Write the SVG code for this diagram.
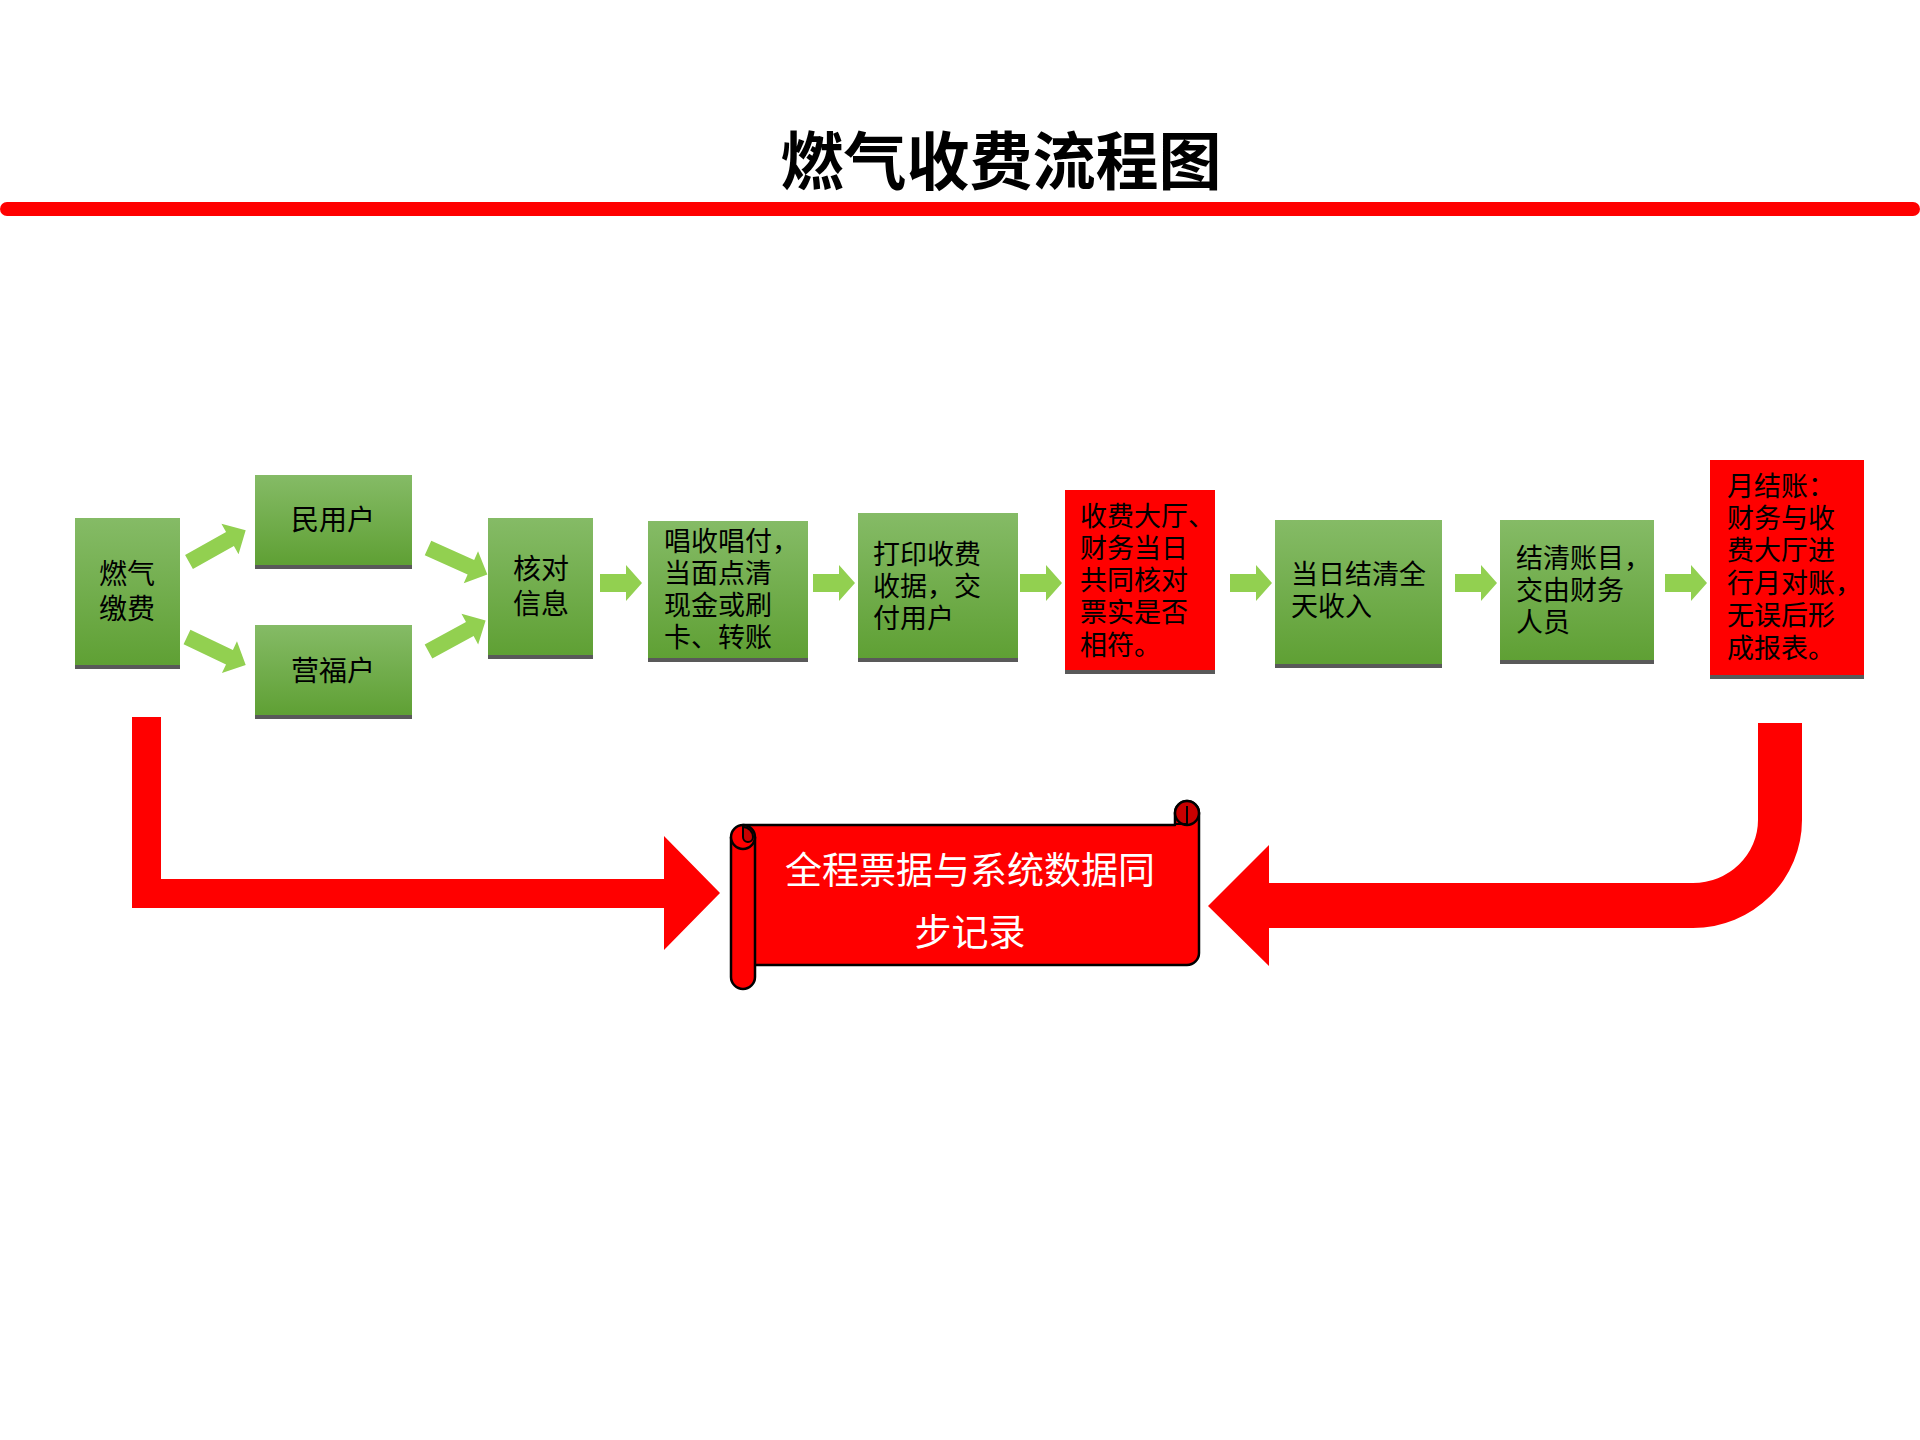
<svg xmlns="http://www.w3.org/2000/svg" width="1920" height="1440" viewBox="0 0 1920 1440">
  <defs>
    <linearGradient id="gGreen" x1="0" y1="0" x2="0" y2="1">
      <stop offset="0" stop-color="#85BB66"/>
      <stop offset="1" stop-color="#5FA034"/>
    </linearGradient>
    <polygon id="hArrow" points="0,-9 26,-9 26,-18 42,0 26,18 26,9 0,9"/>
    <polygon id="dArrow" points="0,-8 47,-8 47,-17.5 65,0 47,17.5 47,8 0,8"/>
    <style>
      .green { fill: url(#gGreen); }
      .redbox { fill: #FF0000; }
      .shadow { fill: #595959; }
      .txt { font-family: "Noto Sans CJK SC", "Noto Sans", sans-serif; fill: #000000; }
      .t28 { font-size: 28px; }
      .t27 { font-size: 27px; }
      .garrow { fill: #92D050; }
      .rarrow { fill: #FF0000; }
      .scrollLine { stroke: #000000; stroke-width: 2.5; stroke-linejoin: round; }
      .scrollTxt { font-family: "Noto Sans CJK SC", sans-serif; font-size: 37px; fill: #FFFFFF; }
    </style>
  </defs>
  <rect x="0" y="0" width="1920" height="1440" fill="#FFFFFF"/>

  <g id="title">
    <text x="1001" y="184" text-anchor="middle" font-family="'Noto Sans CJK SC', sans-serif" font-size="63" font-weight="bold" fill="#000000">燃气收费流程图</text>
    <rect x="0" y="202" width="1920" height="14" rx="7" fill="#FF0000"/>
  </g>

  <g id="connectors">
    <use href="#dArrow" class="garrow" transform="translate(189,562) rotate(-29.3)"/>
    <use href="#dArrow" class="garrow" transform="translate(187,637) rotate(25.4)"/>
    <use href="#dArrow" class="garrow" transform="translate(428,548) rotate(24.1)"/>
    <use href="#dArrow" class="garrow" transform="translate(428.5,651.5) rotate(-28.5)"/>
    <use href="#hArrow" class="garrow" transform="translate(600,583)"/>
    <use href="#hArrow" class="garrow" transform="translate(813,583)"/>
    <use href="#hArrow" class="garrow" transform="translate(1020,583)"/>
    <use href="#hArrow" class="garrow" transform="translate(1230,583)"/>
    <use href="#hArrow" class="garrow" transform="translate(1455,583)"/>
    <use href="#hArrow" class="garrow" transform="translate(1665,583)"/>
    <path class="rarrow" d="M 132,717 H 161 V 879 H 664 V 836 L 720,893 L 664,950 V 908 H 132 Z"/>
    <path class="rarrow" d="M 1758,723 H 1802 V 820 A 109 108 0 0 1 1693,928 H 1269 V 966 L 1208,906 L 1269,845 V 883 H 1693 A 65 63 0 0 0 1758,820 Z"/>
  </g>

  <g id="node-ranqi">
    <rect class="green" x="75" y="518" width="105" height="147"/>
    <rect class="shadow" x="75" y="665" width="105" height="4"/>
    <text class="txt t28"><tspan x="99" y="584">燃气</tspan><tspan x="99" y="619">缴费</tspan></text>
  </g>

  <g id="node-minyong">
    <rect class="green" x="255" y="475" width="157" height="90"/>
    <rect class="shadow" x="255" y="565" width="157" height="4"/>
    <text class="txt t28" x="291" y="530">民用户</text>
  </g>

  <g id="node-yingfu">
    <rect class="green" x="255" y="625" width="157" height="90"/>
    <rect class="shadow" x="255" y="715" width="157" height="4"/>
    <text class="txt t28" x="291" y="681">营福户</text>
  </g>

  <g id="node-hedui">
    <rect class="green" x="488" y="518" width="105" height="137"/>
    <rect class="shadow" x="488" y="655" width="105" height="4"/>
    <text class="txt t28"><tspan x="513" y="579">核对</tspan><tspan x="513" y="614">信息</tspan></text>
  </g>

  <g id="node-changshou">
    <rect class="green" x="648" y="521" width="160" height="137"/>
    <rect class="shadow" x="648" y="658" width="160" height="4"/>
    <text class="txt t27"><tspan x="664" y="551">唱收唱付，</tspan><tspan x="664" y="583">当面点清</tspan><tspan x="664" y="615">现金或刷</tspan><tspan x="664" y="647">卡、转账</tspan></text>
  </g>

  <g id="node-dayin">
    <rect class="green" x="858" y="513" width="160" height="145"/>
    <rect class="shadow" x="858" y="658" width="160" height="4"/>
    <text class="txt t27"><tspan x="873" y="564">打印收费</tspan><tspan x="873" y="596">收据，交</tspan><tspan x="873" y="628">付用户</tspan></text>
  </g>

  <g id="node-shoufeidating">
    <rect class="redbox" x="1065" y="490" width="150" height="180"/>
    <rect class="shadow" x="1065" y="670" width="150" height="4"/>
    <text class="txt t27"><tspan x="1080" y="526">收费大厅、</tspan><tspan x="1080" y="558">财务当日</tspan><tspan x="1080" y="590">共同核对</tspan><tspan x="1080" y="622">票实是否</tspan><tspan x="1080" y="655">相符。</tspan></text>
  </g>

  <g id="node-dangri">
    <rect class="green" x="1275" y="520" width="167" height="144"/>
    <rect class="shadow" x="1275" y="664" width="167" height="4"/>
    <text class="txt t27"><tspan x="1291" y="584">当日结清全</tspan><tspan x="1291" y="616">天收入</tspan></text>
  </g>

  <g id="node-jieqing">
    <rect class="green" x="1500" y="520" width="154" height="140"/>
    <rect class="shadow" x="1500" y="660" width="154" height="4"/>
    <text class="txt t27"><tspan x="1516" y="568">结清账目，</tspan><tspan x="1516" y="600">交由财务</tspan><tspan x="1516" y="632">人员</tspan></text>
  </g>

  <g id="node-yuejiezhang">
    <rect class="redbox" x="1710" y="460" width="154" height="215"/>
    <rect class="shadow" x="1710" y="675" width="154" height="4"/>
    <text class="txt t27"><tspan x="1727" y="496">月结账：</tspan><tspan x="1727" y="528">财务与收</tspan><tspan x="1727" y="560">费大厅进</tspan><tspan x="1727" y="593">行月对账，</tspan><tspan x="1727" y="625">无误后形</tspan><tspan x="1727" y="658">成报表。</tspan></text>
  </g>

  <g id="node-scroll">
    <path class="scrollLine" fill="#FF0000" d="M 743,825 H 1175 V 813 A 12 12 0 0 1 1199,813 V 953 A 12 12 0 0 1 1187,965 H 743 Z"/>
    <circle class="scrollLine" cx="1187" cy="813" r="12" fill="#C80000"/>
    <path d="M 1187,806 V 824 M 1175,824 H 1187" fill="none" stroke="#000000" stroke-width="2"/>
    <path class="scrollLine" fill="#FF0000" d="M 731,837 A 12 12 0 0 1 755,837 V 977 A 12 12 0 0 1 731,977 Z"/>
    <path class="scrollLine" fill="#FF0000" d="M 731,837 A 12 12 0 0 0 755,837"/>
    <path d="M 743,827 A 10 10 0 0 1 753,837 A 5 5 0 0 1 743,837 Z" fill="#C80000" stroke="#000000" stroke-width="2"/>
    <text class="scrollTxt" text-anchor="middle"><tspan x="970" y="884">全程票据与系统数据同</tspan><tspan x="970" y="946">步记录</tspan></text>
  </g>
</svg>
